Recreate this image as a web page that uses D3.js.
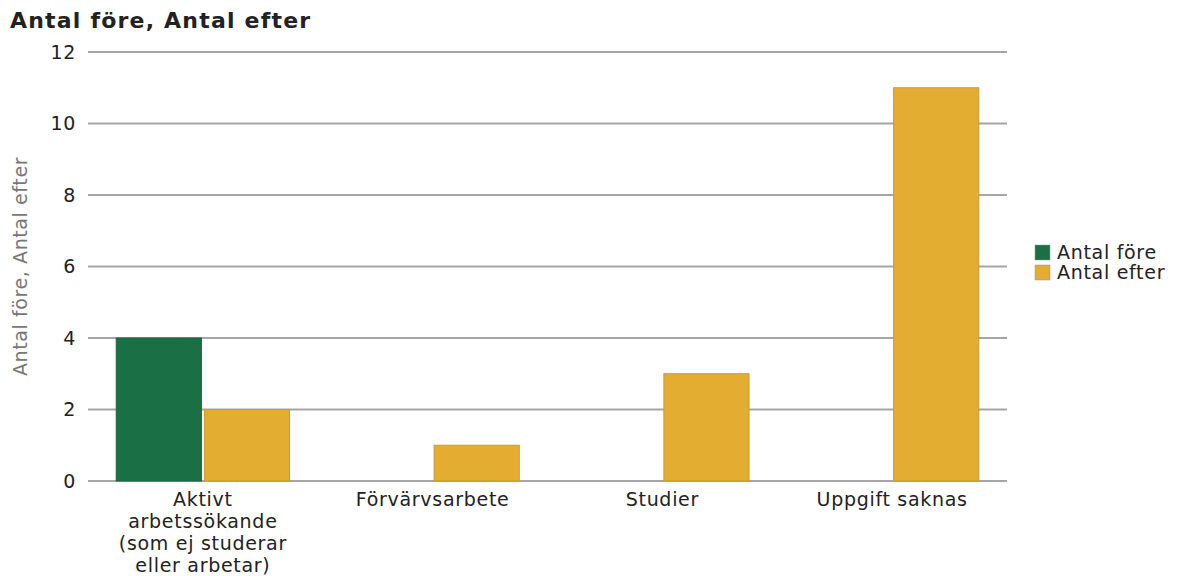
<!DOCTYPE html>
<meta charset="utf-8">
<style>
body { margin: 0; background: #fff; }
svg { font-family: "DejaVu Sans", sans-serif; }
.grid line { stroke: #a6a6a6; stroke-width: 2; }
.tick text { fill: #222; font-size: 19px; letter-spacing: 0.7px; }
</style>
<svg width="1180" height="576"></svg>
<script src="https://d3js.org/d3.v7.min.js"></script>
<script>

var categories = [
  ["Aktivt", "arbetssökande", "(som ej studerar", "eller arbetar)"],
  ["Förvärvsarbete"],
  ["Studier"],
  ["Uppgift saknas"]
];
var seriesNames = ["Antal före", "Antal efter"];
var antalFore = [4, 0, 0, 0];
var antalEfter = [2, 1, 3, 11];
var yTicks = [0, 2, 4, 6, 8, 10, 12];
var colors = ["#1b6f45", "#e2ad30"];

var svg = d3.select("svg");
var plotLeft = 88, plotRight = 1007, plotTop = 52, plotBottom = 481;

var x = d3.scaleBand()
    .domain(d3.range(categories.length))
    .range([plotLeft, plotRight]);

var inner = d3.scaleBand()
    .domain([0, 1])
    .range([0, x.bandwidth()])
    .paddingInner(0.034)
    .paddingOuter(0.32);

var y = d3.scaleLinear()
    .domain([0, 12])
    .range([plotBottom, plotTop]);

// title
svg.append("text")
    .attr("x", 10)
    .attr("y", 28)
    .attr("font-size", 22)
    .attr("font-weight", "bold")
    .attr("letter-spacing", 1.2)
    .attr("fill", "#222")
    .text("Antal före, Antal efter");

// grid + y axis
var grid = svg.append("g").attr("class", "grid");
grid.selectAll("line")
  .data(yTicks)
  .enter().append("line")
    .attr("x1", plotLeft)
    .attr("x2", plotRight)
    .attr("y1", function(d) { return y(d); })
    .attr("y2", function(d) { return y(d); });

svg.append("g")
    .attr("class", "tick")
  .selectAll("text")
  .data(yTicks)
  .enter().append("text")
    .attr("x", 76)
    .attr("y", function(d) { return y(d); })
    .attr("dy", "0.35em")
    .attr("text-anchor", "end")
    .text(function(d) { return d; });

svg.append("text")
    .attr("transform", "translate(27," + ((plotTop + plotBottom) / 2) + ") rotate(-90)")
    .attr("text-anchor", "middle")
    .attr("font-size", 19)
    .attr("letter-spacing", 0.6)
    .attr("fill", "#777")
    .text("Antal före, Antal efter");

// bars
var data = [antalFore, antalEfter];
var groups = svg.append("g").selectAll("g")
  .data(data)
  .enter().append("g")
    .attr("fill", function(d, i) { return colors[i]; });

groups.selectAll("rect")
  .data(function(d, i) { return d.map(function(v, j) { return {s: i, c: j, v: v}; }); })
  .enter().filter(function(d) { return d.v > 0; }).append("rect")
    .attr("x", function(d) { return x(d.c) + inner(d.s); })
    .attr("width", inner.bandwidth())
    .attr("y", function(d) { return y(d.v); })
    .attr("height", function(d) { return y(0) - y(d.v); })
    .attr("stroke", function(d) { return d3.color(colors[d.s]).darker(0.3); })
    .attr("stroke-width", 1);

// x labels
var xl = svg.append("g").attr("class", "tick");
categories.forEach(function(lines, i) {
  var t = xl.append("text")
      .attr("text-anchor", "middle")
      .attr("x", x(i) + x.bandwidth() / 2)
      .attr("y", 506);
  lines.forEach(function(l, k) {
    t.append("tspan")
        .attr("x", x(i) + x.bandwidth() / 2)
        .attr("dy", k == 0 ? 0 : 22)
        .text(l);
  });
});

// legend
var lg = svg.append("g").attr("transform", "translate(1035,245)");
seriesNames.forEach(function(n, i) {
  lg.append("rect")
      .attr("x", 0)
      .attr("y", i * 20)
      .attr("width", 15)
      .attr("height", 15)
      .attr("fill", colors[i])
      .attr("stroke", "#999")
      .attr("stroke-width", 0.5);
  lg.append("text")
      .attr("x", 22)
      .attr("y", i * 20 + 14)
      .attr("font-size", 19)
      .attr("letter-spacing", 0.7)
      .attr("fill", "#222")
      .text(n);
});

</script>
